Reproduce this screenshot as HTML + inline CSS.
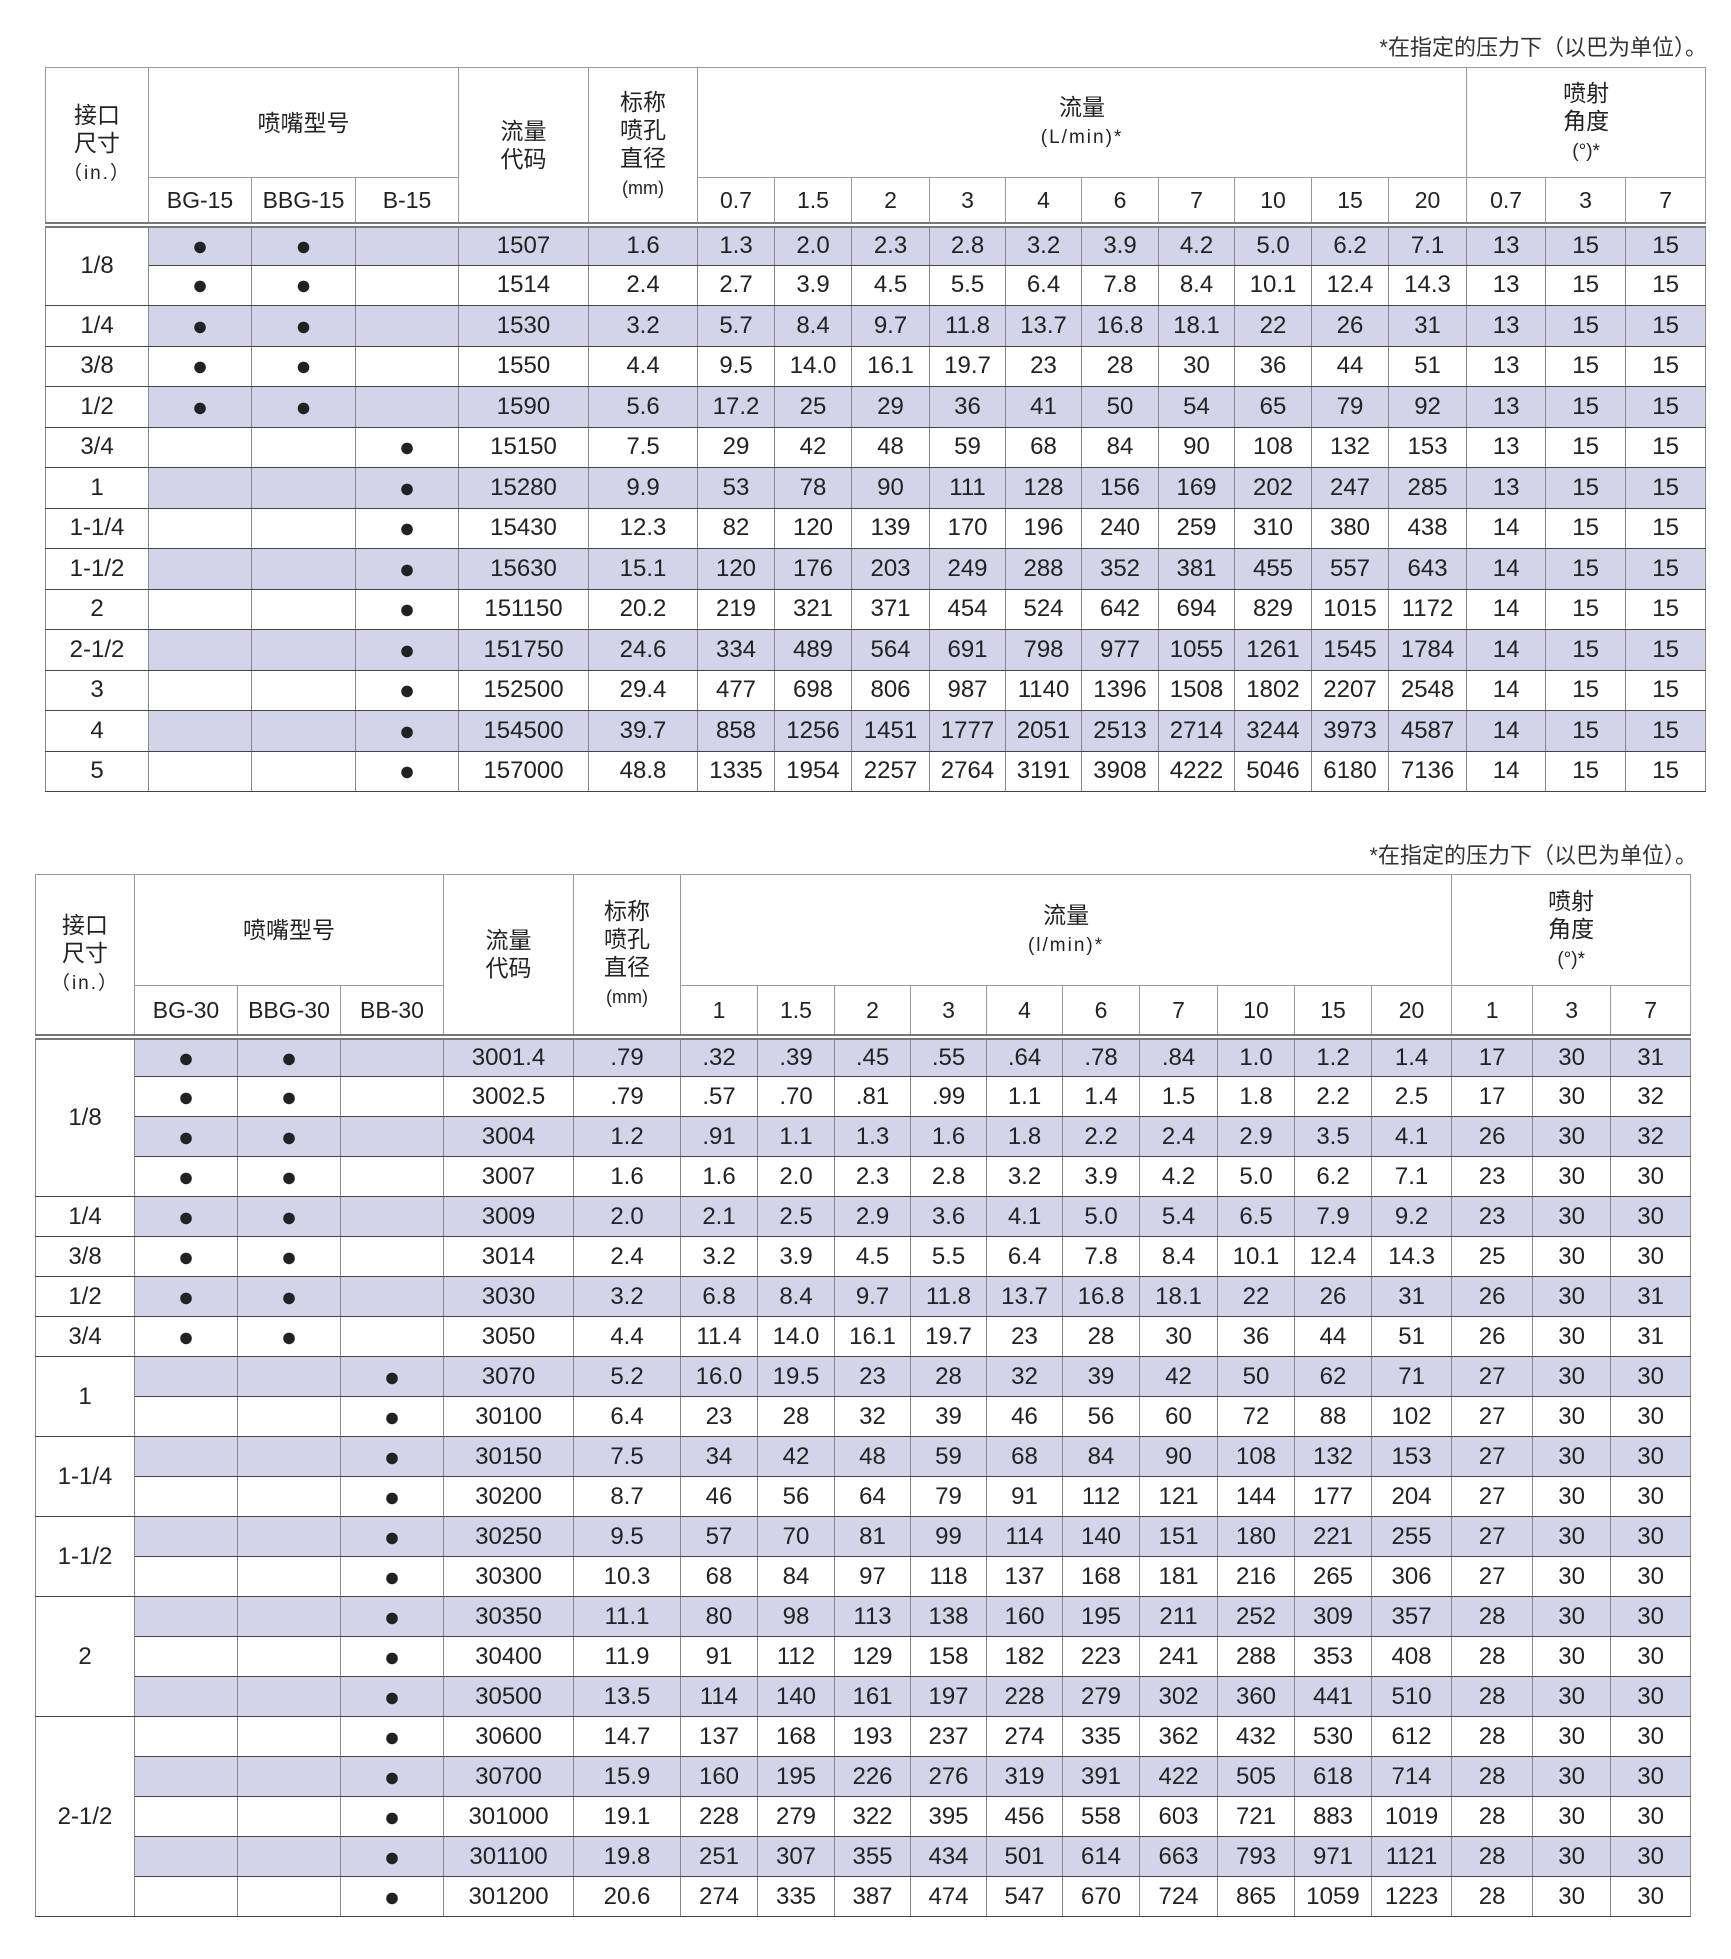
<!DOCTYPE html>
<html><head><meta charset="utf-8"><style>
body{margin:0;width:1731px;height:1959px;background:#fff;position:relative;font-family:"Liberation Sans","Noto Sans CJK SC",sans-serif;color:#222;overflow:hidden}
.cap{position:absolute;font-size:22px;color:#333;white-space:nowrap}
table{position:absolute;border-collapse:collapse;table-layout:fixed;border:1.5px solid #888}
td{padding:0;text-align:center;vertical-align:middle;font-size:24px;border-left:1px solid #888;border-right:1px solid #888;border-top:1.5px solid #444;border-bottom:1.5px solid #444;white-space:nowrap;overflow:hidden}
thead td{border-color:#999;font-size:23px;line-height:28px}
thead tr.h2 td{border-bottom:6px double #777}
tr.s td{background:#d3d3e9}
tr.s td.w{background:#fff}
td.w{background:#fff}
.b{font-size:27px;line-height:20px}
.sm{font-size:19px;letter-spacing:2px}
tbody tr.r1{height:40.5px}
tbody tr.r2{height:40.0px}
</style></head><body>
<div class="cap" style="right:24px;top:30px">*在指定的压力下（以巴为单位）。</div>
<table style="left:45px;top:67px;width:1660px">
<colgroup><col style="width:103px"><col style="width:103px"><col style="width:104px"><col style="width:103px"><col style="width:130px"><col style="width:109px"><col style="width:77px"><col style="width:77px"><col style="width:78px"><col style="width:76px"><col style="width:76px"><col style="width:77px"><col style="width:76px"><col style="width:77px"><col style="width:77px"><col style="width:78px"><col style="width:79px"><col style="width:80px"><col style="width:80px"></colgroup>
<thead>
<tr style="height:110px"><td rowspan="2" style="border-bottom:6px double #777">接口<br>尺寸<br><span class="sm">（in.）</span></td><td colspan="3">喷嘴型号</td><td rowspan="2" style="border-bottom:6px double #777">流量<br>代码</td><td rowspan="2" style="border-bottom:6px double #777">标称<br>喷孔<br>直径<br><span style="font-size:18px">(mm)</span></td><td colspan="10">流量<br><span class="sm">(L/min)*</span></td><td colspan="3">喷射<br>角度<br><span style="font-size:19px">(°)*</span></td></tr>
<tr class="h2" style="height:47px"><td>BG-15</td><td>BBG-15</td><td>B-15</td><td>0.7</td><td>1.5</td><td>2</td><td>3</td><td>4</td><td>6</td><td>7</td><td>10</td><td>15</td><td>20</td><td>0.7</td><td>3</td><td>7</td></tr>
</thead>
<tbody>
<tr class="s r1"><td class="w" rowspan="2">1/8</td><td class="b">●</td><td class="b">●</td><td></td><td>1507</td><td>1.6</td><td>1.3</td><td>2.0</td><td>2.3</td><td>2.8</td><td>3.2</td><td>3.9</td><td>4.2</td><td>5.0</td><td>6.2</td><td>7.1</td><td>13</td><td>15</td><td>15</td></tr>
<tr class="r1"><td class="b">●</td><td class="b">●</td><td></td><td>1514</td><td>2.4</td><td>2.7</td><td>3.9</td><td>4.5</td><td>5.5</td><td>6.4</td><td>7.8</td><td>8.4</td><td>10.1</td><td>12.4</td><td>14.3</td><td>13</td><td>15</td><td>15</td></tr>
<tr class="s r1"><td class="w">1/4</td><td class="b">●</td><td class="b">●</td><td></td><td>1530</td><td>3.2</td><td>5.7</td><td>8.4</td><td>9.7</td><td>11.8</td><td>13.7</td><td>16.8</td><td>18.1</td><td>22</td><td>26</td><td>31</td><td>13</td><td>15</td><td>15</td></tr>
<tr class="r1"><td>3/8</td><td class="b">●</td><td class="b">●</td><td></td><td>1550</td><td>4.4</td><td>9.5</td><td>14.0</td><td>16.1</td><td>19.7</td><td>23</td><td>28</td><td>30</td><td>36</td><td>44</td><td>51</td><td>13</td><td>15</td><td>15</td></tr>
<tr class="s r1"><td class="w">1/2</td><td class="b">●</td><td class="b">●</td><td></td><td>1590</td><td>5.6</td><td>17.2</td><td>25</td><td>29</td><td>36</td><td>41</td><td>50</td><td>54</td><td>65</td><td>79</td><td>92</td><td>13</td><td>15</td><td>15</td></tr>
<tr class="r1"><td>3/4</td><td></td><td></td><td class="b">●</td><td>15150</td><td>7.5</td><td>29</td><td>42</td><td>48</td><td>59</td><td>68</td><td>84</td><td>90</td><td>108</td><td>132</td><td>153</td><td>13</td><td>15</td><td>15</td></tr>
<tr class="s r1"><td class="w">1</td><td></td><td></td><td class="b">●</td><td>15280</td><td>9.9</td><td>53</td><td>78</td><td>90</td><td>111</td><td>128</td><td>156</td><td>169</td><td>202</td><td>247</td><td>285</td><td>13</td><td>15</td><td>15</td></tr>
<tr class="r1"><td>1-1/4</td><td></td><td></td><td class="b">●</td><td>15430</td><td>12.3</td><td>82</td><td>120</td><td>139</td><td>170</td><td>196</td><td>240</td><td>259</td><td>310</td><td>380</td><td>438</td><td>14</td><td>15</td><td>15</td></tr>
<tr class="s r1"><td class="w">1-1/2</td><td></td><td></td><td class="b">●</td><td>15630</td><td>15.1</td><td>120</td><td>176</td><td>203</td><td>249</td><td>288</td><td>352</td><td>381</td><td>455</td><td>557</td><td>643</td><td>14</td><td>15</td><td>15</td></tr>
<tr class="r1"><td>2</td><td></td><td></td><td class="b">●</td><td>151150</td><td>20.2</td><td>219</td><td>321</td><td>371</td><td>454</td><td>524</td><td>642</td><td>694</td><td>829</td><td>1015</td><td>1172</td><td>14</td><td>15</td><td>15</td></tr>
<tr class="s r1"><td class="w">2-1/2</td><td></td><td></td><td class="b">●</td><td>151750</td><td>24.6</td><td>334</td><td>489</td><td>564</td><td>691</td><td>798</td><td>977</td><td>1055</td><td>1261</td><td>1545</td><td>1784</td><td>14</td><td>15</td><td>15</td></tr>
<tr class="r1"><td>3</td><td></td><td></td><td class="b">●</td><td>152500</td><td>29.4</td><td>477</td><td>698</td><td>806</td><td>987</td><td>1140</td><td>1396</td><td>1508</td><td>1802</td><td>2207</td><td>2548</td><td>14</td><td>15</td><td>15</td></tr>
<tr class="s r1"><td class="w">4</td><td></td><td></td><td class="b">●</td><td>154500</td><td>39.7</td><td>858</td><td>1256</td><td>1451</td><td>1777</td><td>2051</td><td>2513</td><td>2714</td><td>3244</td><td>3973</td><td>4587</td><td>14</td><td>15</td><td>15</td></tr>
<tr class="r1"><td>5</td><td></td><td></td><td class="b">●</td><td>157000</td><td>48.8</td><td>1335</td><td>1954</td><td>2257</td><td>2764</td><td>3191</td><td>3908</td><td>4222</td><td>5046</td><td>6180</td><td>7136</td><td>14</td><td>15</td><td>15</td></tr>
</tbody></table>

<div class="cap" style="right:34px;top:838px">*在指定的压力下（以巴为单位）。</div>
<table style="left:35px;top:874px;width:1655px">
<colgroup><col style="width:99px"><col style="width:103px"><col style="width:103px"><col style="width:103px"><col style="width:130px"><col style="width:107px"><col style="width:77px"><col style="width:77px"><col style="width:76px"><col style="width:76px"><col style="width:76px"><col style="width:77px"><col style="width:78px"><col style="width:77px"><col style="width:77px"><col style="width:80px"><col style="width:81px"><col style="width:78px"><col style="width:80px"></colgroup>
<thead>
<tr style="height:111px"><td rowspan="2" style="border-bottom:6px double #777">接口<br>尺寸<br><span class="sm">（in.）</span></td><td colspan="3">喷嘴型号</td><td rowspan="2" style="border-bottom:6px double #777">流量<br>代码</td><td rowspan="2" style="border-bottom:6px double #777">标称<br>喷孔<br>直径<br><span style="font-size:18px">(mm)</span></td><td colspan="10">流量<br><span class="sm">(l/min)*</span></td><td colspan="3">喷射<br>角度<br><span style="font-size:19px">(°)*</span></td></tr>
<tr class="h2" style="height:51px"><td>BG-30</td><td>BBG-30</td><td>BB-30</td><td>1</td><td>1.5</td><td>2</td><td>3</td><td>4</td><td>6</td><td>7</td><td>10</td><td>15</td><td>20</td><td>1</td><td>3</td><td>7</td></tr>
</thead>
<tbody>
<tr class="s r2"><td class="w" rowspan="4">1/8</td><td class="b">●</td><td class="b">●</td><td></td><td>3001.4</td><td>.79</td><td>.32</td><td>.39</td><td>.45</td><td>.55</td><td>.64</td><td>.78</td><td>.84</td><td>1.0</td><td>1.2</td><td>1.4</td><td>17</td><td>30</td><td>31</td></tr>
<tr class="r2"><td class="b">●</td><td class="b">●</td><td></td><td>3002.5</td><td>.79</td><td>.57</td><td>.70</td><td>.81</td><td>.99</td><td>1.1</td><td>1.4</td><td>1.5</td><td>1.8</td><td>2.2</td><td>2.5</td><td>17</td><td>30</td><td>32</td></tr>
<tr class="s r2"><td class="b">●</td><td class="b">●</td><td></td><td>3004</td><td>1.2</td><td>.91</td><td>1.1</td><td>1.3</td><td>1.6</td><td>1.8</td><td>2.2</td><td>2.4</td><td>2.9</td><td>3.5</td><td>4.1</td><td>26</td><td>30</td><td>32</td></tr>
<tr class="r2"><td class="b">●</td><td class="b">●</td><td></td><td>3007</td><td>1.6</td><td>1.6</td><td>2.0</td><td>2.3</td><td>2.8</td><td>3.2</td><td>3.9</td><td>4.2</td><td>5.0</td><td>6.2</td><td>7.1</td><td>23</td><td>30</td><td>30</td></tr>
<tr class="s r2"><td class="w">1/4</td><td class="b">●</td><td class="b">●</td><td></td><td>3009</td><td>2.0</td><td>2.1</td><td>2.5</td><td>2.9</td><td>3.6</td><td>4.1</td><td>5.0</td><td>5.4</td><td>6.5</td><td>7.9</td><td>9.2</td><td>23</td><td>30</td><td>30</td></tr>
<tr class="r2"><td>3/8</td><td class="b">●</td><td class="b">●</td><td></td><td>3014</td><td>2.4</td><td>3.2</td><td>3.9</td><td>4.5</td><td>5.5</td><td>6.4</td><td>7.8</td><td>8.4</td><td>10.1</td><td>12.4</td><td>14.3</td><td>25</td><td>30</td><td>30</td></tr>
<tr class="s r2"><td class="w">1/2</td><td class="b">●</td><td class="b">●</td><td></td><td>3030</td><td>3.2</td><td>6.8</td><td>8.4</td><td>9.7</td><td>11.8</td><td>13.7</td><td>16.8</td><td>18.1</td><td>22</td><td>26</td><td>31</td><td>26</td><td>30</td><td>31</td></tr>
<tr class="r2"><td>3/4</td><td class="b">●</td><td class="b">●</td><td></td><td>3050</td><td>4.4</td><td>11.4</td><td>14.0</td><td>16.1</td><td>19.7</td><td>23</td><td>28</td><td>30</td><td>36</td><td>44</td><td>51</td><td>26</td><td>30</td><td>31</td></tr>
<tr class="s r2"><td class="w" rowspan="2">1</td><td></td><td></td><td class="b">●</td><td>3070</td><td>5.2</td><td>16.0</td><td>19.5</td><td>23</td><td>28</td><td>32</td><td>39</td><td>42</td><td>50</td><td>62</td><td>71</td><td>27</td><td>30</td><td>30</td></tr>
<tr class="r2"><td></td><td></td><td class="b">●</td><td>30100</td><td>6.4</td><td>23</td><td>28</td><td>32</td><td>39</td><td>46</td><td>56</td><td>60</td><td>72</td><td>88</td><td>102</td><td>27</td><td>30</td><td>30</td></tr>
<tr class="s r2"><td class="w" rowspan="2">1-1/4</td><td></td><td></td><td class="b">●</td><td>30150</td><td>7.5</td><td>34</td><td>42</td><td>48</td><td>59</td><td>68</td><td>84</td><td>90</td><td>108</td><td>132</td><td>153</td><td>27</td><td>30</td><td>30</td></tr>
<tr class="r2"><td></td><td></td><td class="b">●</td><td>30200</td><td>8.7</td><td>46</td><td>56</td><td>64</td><td>79</td><td>91</td><td>112</td><td>121</td><td>144</td><td>177</td><td>204</td><td>27</td><td>30</td><td>30</td></tr>
<tr class="s r2"><td class="w" rowspan="2">1-1/2</td><td></td><td></td><td class="b">●</td><td>30250</td><td>9.5</td><td>57</td><td>70</td><td>81</td><td>99</td><td>114</td><td>140</td><td>151</td><td>180</td><td>221</td><td>255</td><td>27</td><td>30</td><td>30</td></tr>
<tr class="r2"><td></td><td></td><td class="b">●</td><td>30300</td><td>10.3</td><td>68</td><td>84</td><td>97</td><td>118</td><td>137</td><td>168</td><td>181</td><td>216</td><td>265</td><td>306</td><td>27</td><td>30</td><td>30</td></tr>
<tr class="s r2"><td class="w" rowspan="3">2</td><td></td><td></td><td class="b">●</td><td>30350</td><td>11.1</td><td>80</td><td>98</td><td>113</td><td>138</td><td>160</td><td>195</td><td>211</td><td>252</td><td>309</td><td>357</td><td>28</td><td>30</td><td>30</td></tr>
<tr class="r2"><td></td><td></td><td class="b">●</td><td>30400</td><td>11.9</td><td>91</td><td>112</td><td>129</td><td>158</td><td>182</td><td>223</td><td>241</td><td>288</td><td>353</td><td>408</td><td>28</td><td>30</td><td>30</td></tr>
<tr class="s r2"><td></td><td></td><td class="b">●</td><td>30500</td><td>13.5</td><td>114</td><td>140</td><td>161</td><td>197</td><td>228</td><td>279</td><td>302</td><td>360</td><td>441</td><td>510</td><td>28</td><td>30</td><td>30</td></tr>
<tr class="r2"><td rowspan="5">2-1/2</td><td></td><td></td><td class="b">●</td><td>30600</td><td>14.7</td><td>137</td><td>168</td><td>193</td><td>237</td><td>274</td><td>335</td><td>362</td><td>432</td><td>530</td><td>612</td><td>28</td><td>30</td><td>30</td></tr>
<tr class="s r2"><td></td><td></td><td class="b">●</td><td>30700</td><td>15.9</td><td>160</td><td>195</td><td>226</td><td>276</td><td>319</td><td>391</td><td>422</td><td>505</td><td>618</td><td>714</td><td>28</td><td>30</td><td>30</td></tr>
<tr class="r2"><td></td><td></td><td class="b">●</td><td>301000</td><td>19.1</td><td>228</td><td>279</td><td>322</td><td>395</td><td>456</td><td>558</td><td>603</td><td>721</td><td>883</td><td>1019</td><td>28</td><td>30</td><td>30</td></tr>
<tr class="s r2"><td></td><td></td><td class="b">●</td><td>301100</td><td>19.8</td><td>251</td><td>307</td><td>355</td><td>434</td><td>501</td><td>614</td><td>663</td><td>793</td><td>971</td><td>1121</td><td>28</td><td>30</td><td>30</td></tr>
<tr class="r2"><td></td><td></td><td class="b">●</td><td>301200</td><td>20.6</td><td>274</td><td>335</td><td>387</td><td>474</td><td>547</td><td>670</td><td>724</td><td>865</td><td>1059</td><td>1223</td><td>28</td><td>30</td><td>30</td></tr>
</tbody></table>
</body></html>
